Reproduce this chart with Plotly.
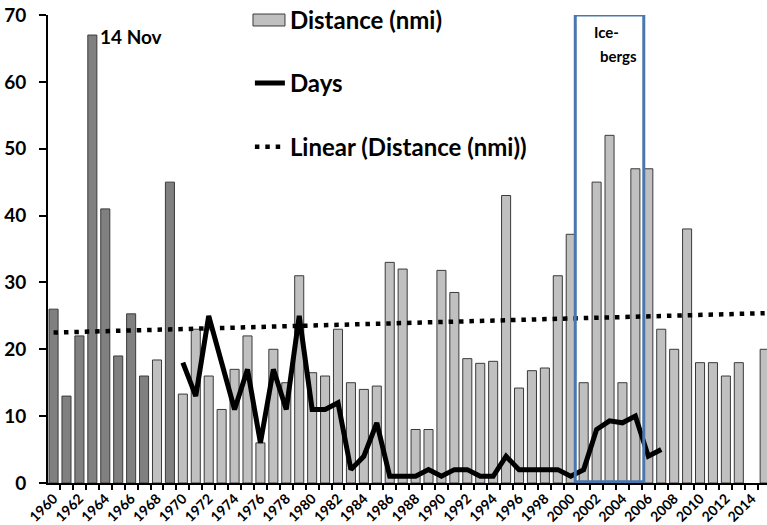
import plotly.graph_objects as go

years = list(range(1960, 2016))
distance = [26, 13, 22, 67, 41, 19, 25.3, 16, 18.4, 45,
            13.3, 23, 16, 11, 17, 22, 6, 20, 15, 31,
            16.5, 16, 23, 15, 14, 14.5, 33, 32, 8, 8,
            31.8, 28.5, 18.6, 17.9, 18.2, 43, 14.2, 16.8, 17.2, 31,
            37.2, 15, 45, 52, 15, 47, 47, 23, 20, 38,
            18, 18, 16, 18, None, 20]
dark_years = [1960, 1961, 1962, 1963, 1964, 1965, 1966, 1967, 1969]

days_years = list(range(1970, 2008))
days = [18, 13, 25, 18, 11, 17, 6, 17, 11, 25,
        11, 11, 12, 2, 4, 9, 1, 1, 1, 2,
        1, 2, 2, 1, 1, 4, 2, 2, 2, 2,
        1, 2, 8, 9.3, 9, 10, 4, 5]

trend_years = [1960, 2015]
trend_values = [22.5, 25.4]

tick_years = list(range(1960, 2016, 2))
tick_labels = [str(y) for y in tick_years]

DARK = "#808080"
LIGHT = "#c0c0c0"
EDGE = "#3a3a3a"
bar_colors = [DARK if y in dark_years else LIGHT for y in years]
FONT = "Lato"

fig = go.Figure()
fig.add_trace(go.Bar(
    x=years, y=distance, width=0.7,
    marker=dict(color=bar_colors, line=dict(color=EDGE, width=1)),
    showlegend=False, name="Distance (nmi)"))
# legend entry for the bars (its wide swatch is drawn as a shape below)
fig.add_trace(go.Bar(
    x=[None], y=[None], name="Distance (nmi)", legendgroup="a",
    marker=dict(color="rgba(0,0,0,0)", line=dict(color="rgba(0,0,0,0)", width=0))))
fig.add_trace(go.Scatter(
    x=days_years, y=days, mode="lines", name="Days", legendgroup="b",
    line=dict(color="black", width=5)))
fig.add_trace(go.Scatter(
    x=trend_years, y=trend_values, mode="lines", name="Linear (Distance (nmi))",
    legendgroup="c",
    line=dict(color="black", width=4.5, dash="4.5px,5.9px")))

fig.add_shape(type="rect", x0=2000.35, x1=2005.65, y0=0.2, y1=70,
              line=dict(color="#4a78ad", width=3), fillcolor="rgba(0,0,0,0)")
# legend swatch for Distance
fig.add_shape(type="rect", xref="paper", yref="paper",
              x0=0.2851, x1=0.3296, y0=0.9765, y1=1.0021,
              line=dict(color=EDGE, width=1), fillcolor=LIGHT)

fig.add_annotation(x=1963.45, y=66.8, text="14 Nov", showarrow=False,
                   xanchor="left", yanchor="middle",
                   font=dict(size=19, family=FONT, weight="bold", color="black"))
fig.add_annotation(x=2002.73, y=67.4, text="Ice-", showarrow=False,
                   xanchor="center", yanchor="middle",
                   font=dict(size=15, family=FONT, weight="bold", color="black"))
fig.add_annotation(x=2003.73, y=63.9, text="bergs", showarrow=False,
                   xanchor="center", yanchor="middle",
                   font=dict(size=15, family=FONT, weight="bold", color="black"))

fig.update_layout(
    width=767, height=525,
    margin=dict(l=48, r=0, t=15, b=42, autoexpand=False),
    plot_bgcolor="white", paper_bgcolor="white",
    font=dict(family=FONT, weight="bold", color="black"),
    barmode="overlay",
    showlegend=True,
    legend=dict(x=0.2808, y=1.038, xanchor="left", yanchor="top",
                traceorder="grouped", tracegroupgap=29.5,
                font=dict(size=24, family=FONT, weight="bold", color="black"),
                bgcolor="rgba(0,0,0,0)"),
    xaxis=dict(range=[1959.57, 2015.18], tickmode="array", tickvals=tick_years,
               ticktext=tick_labels, tickangle=-45, ticks="", automargin=False,
               tickfont=dict(size=14, family=FONT, weight="bold"),
               showline=True, linecolor="black", linewidth=2, showgrid=False,
               zeroline=False,
               minor=dict(tickmode="linear", tick0=1959.5, dtick=1, ticks="outside",
                          ticklen=5, tickcolor="black", tickwidth=1.5, showgrid=False)),
    yaxis=dict(range=[0, 70], dtick=10, ticks="outside", ticklen=7, tickwidth=2,
               tickcolor="black", showline=True, linecolor="black", linewidth=2,
               showgrid=False, zeroline=False, automargin=False,
               ticklabelstandoff=9,
               tickfont=dict(size=19, family=FONT, weight="bold")),
)

fig.write_html("out.html", config={"displayModeBar": False},
               post_script="document.body.style.margin='0';document.body.style.padding='0';document.body.style.overflow='hidden';")
